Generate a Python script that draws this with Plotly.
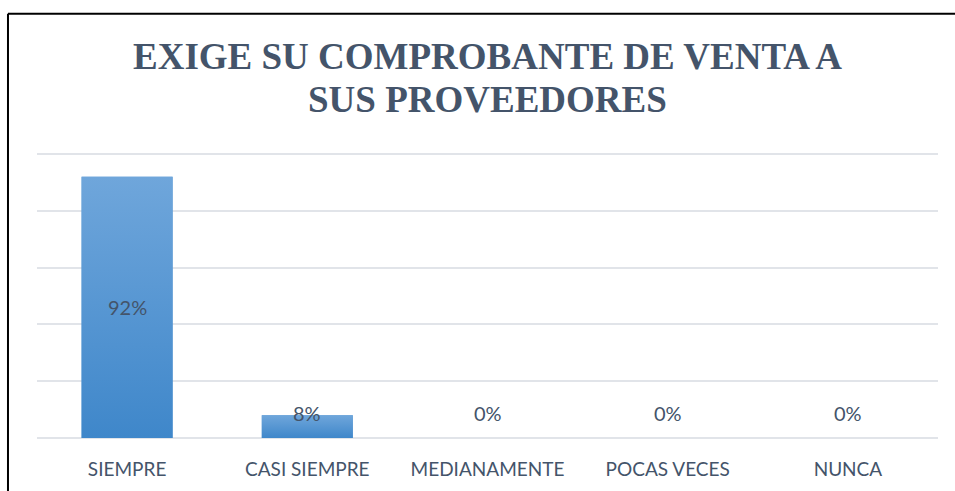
import plotly.graph_objects as go

categories = ["SIEMPRE", "CASI SIEMPRE", "MEDIANAMENTE", "POCAS VECES", "NUNCA"]
values = [0.92, 0.08, 0.0, 0.0, 0.0]
labels = ["92%", "8%", "0%", "0%", "0%"]
title_lines = ["EXIGE SU COMPROBANTE DE VENTA A", "SUS PROVEEDORES"]

TXT = "#44546A"
BAR_W = 0.505
idx = list(range(len(categories)))

fig = go.Figure()
fig.add_trace(go.Bar(x=idx, y=values, width=BAR_W, marker=dict(color="#5697d3", line=dict(width=0)),
                     hoverinfo="skip", showlegend=False))

# vertical gradient overlay for each bar
for i, v in zip(idx, values):
    if v <= 0:
        continue
    x0, x1 = i - BAR_W / 2, i + BAR_W / 2
    fig.add_trace(go.Scatter(
        x=[x0, x1, x1, x0, x0], y=[0, 0, v, v, 0], mode="lines", fill="toself",
        line=dict(width=0, color="rgba(0,0,0,0)"),
        fillgradient=dict(type="vertical", colorscale=[[0, "#3f87ca"], [1, "#6fa6db"]]),
        hoverinfo="skip", showlegend=False))

for i, v, t in zip(idx, values, labels):
    fig.add_annotation(x=i, y=(v / 2 if v > 0.3 else 0.088), text=t, showarrow=False,
                       font=dict(family="Lato", size=20, color=TXT), xref="x", yref="y")

# title, two lines with tight line spacing
for k, line in enumerate(title_lines):
    fig.add_annotation(x=0.5, xref="paper", y=1.338 - 0.151 * k, yref="paper", text=f"<b>{line}</b>",
                       showarrow=False, xanchor="center", yanchor="middle",
                       font=dict(family="Liberation Serif", size=37, color=TXT))

# outer border (left and top edges visible)
fig.add_shape(type="line", xref="paper", yref="paper", x0=-0.0322, x1=-0.0322, y0=-0.5, y1=1.489,
              line=dict(color="black", width=2), layer="above")
fig.add_shape(type="line", xref="paper", yref="paper", x0=-0.0322, x1=1.2, y0=1.489, y1=1.489,
              line=dict(color="black", width=2), layer="above")

fig.update_layout(
    width=955, height=491,
    margin=dict(l=37, r=17, t=153, b=53),
    paper_bgcolor="white", plot_bgcolor="white",
    xaxis=dict(range=[-0.5, 4.5], tickvals=idx, ticktext=categories, showgrid=False, zeroline=False,
               showline=False, ticks="outside", ticklen=14, tickcolor="rgba(0,0,0,0)",
               tickfont=dict(family="Lato", size=19, color=TXT), fixedrange=True),
    yaxis=dict(range=[0, 1.004], dtick=0.2, showticklabels=False, showgrid=True, gridcolor="#e1e4e9",
               gridwidth=2, zeroline=True, zerolinecolor="#e1e4e9", zerolinewidth=2, fixedrange=True),
    bargap=0.495,
)

fig.write_html("out.html", config={"displayModeBar": False},
               post_script="document.body.style.margin='0';document.body.style.overflow='hidden';")
